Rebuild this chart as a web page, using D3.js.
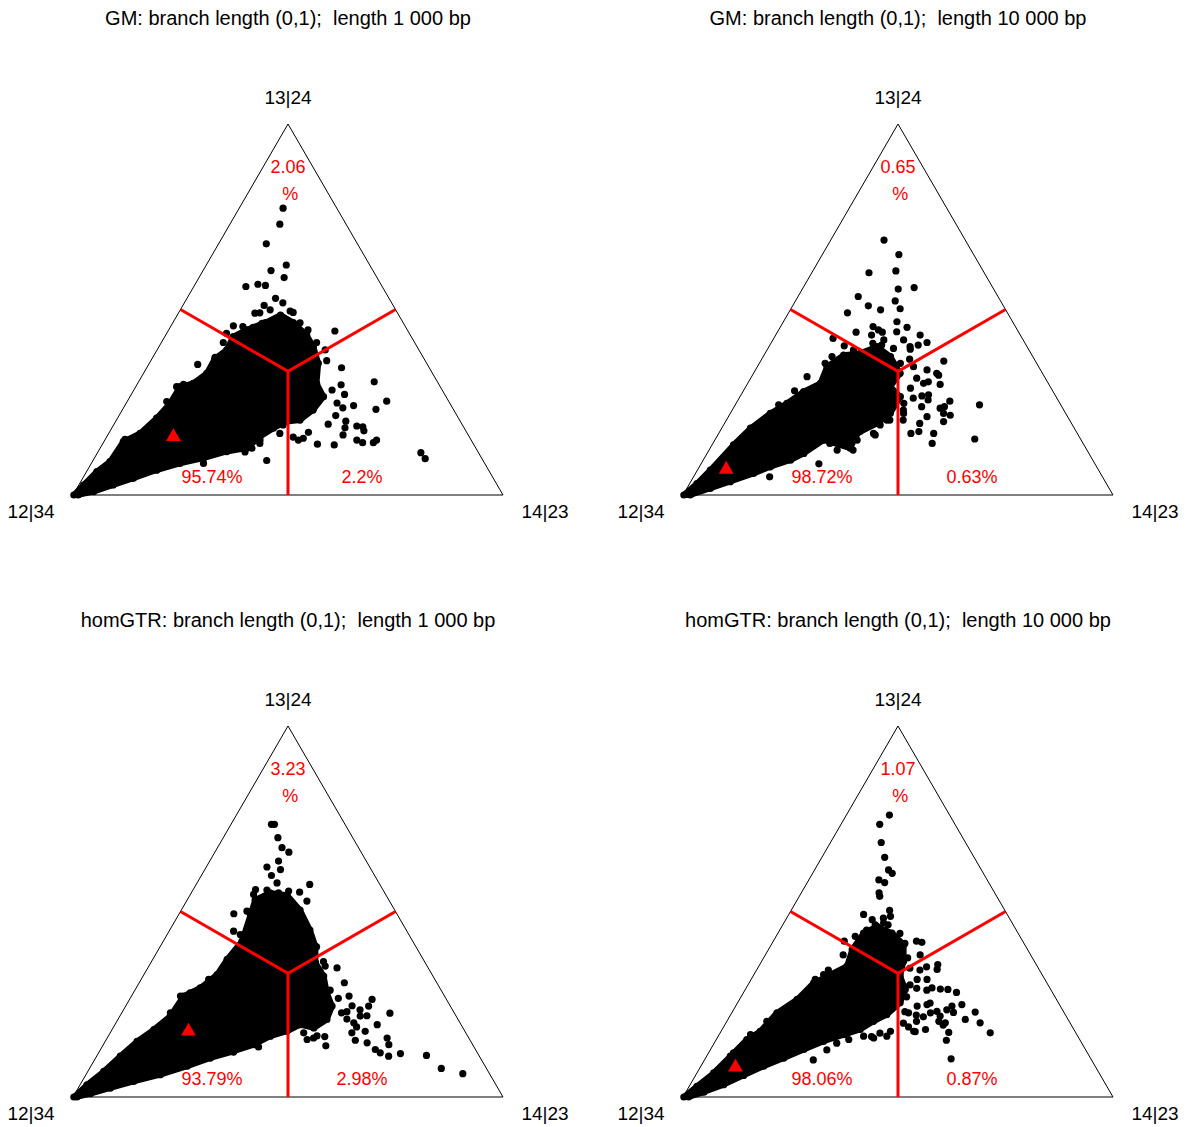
<!DOCTYPE html>
<html>
<head>
<meta charset="utf-8">
<script src="https://cdn.jsdelivr.net/npm/d3@7"></script>
<style>
  body { margin: 0; background: #fff; }
  text { font-family: "Liberation Sans", Arial, sans-serif; }
</style>
</head>
<body>
<div id="chart"></div>
<script>
// Ternary coordinates in percent: [share of 13|24, share of 14|23]; 12|34 = 100 - both
const titles = [
  "GM: branch length (0,1);  length 1 000 bp",
  "GM: branch length (0,1);  length 10 000 bp",
  "homGTR: branch length (0,1);  length 1 000 bp",
  "homGTR: branch length (0,1);  length 10 000 bp"
];
const vertexLabels = ["12|34", "13|24", "14|23"];
// [12|34 region, 13|24 region, 14|23 region]
const regionPct = [[95.74, 2.06, 2.2], [98.72, 0.65, 0.63], [93.79, 3.23, 2.98], [98.06, 1.07, 0.87]];
const truePoint = [[15.7, 15.5], [6.9, 6.6], [17.7, 18.0], [8.0, 8.2]];

// outline of the dense cloud of estimates
const coreGM1000 = [[0,0.2],[2.7,1.1],[6.3,2.4],[9.0,4.1],[14.4,4.5],[16.6,7.3],[20.7,9.1],[24.7,10.2],[29.2,10.3],
  [30.1,12.9],[32.8,14.7],[36.8,14.6],[39.1,16.2],[42.7,15.9],[44.5,18.1],[46.5,21.5],[48.5,24.0],[46.5,28.0],
  [43.1,32.8],[40.0,35.9],[35.5,39.3],[30.1,41.6],[26.5,45.0],[22.9,44.4],[20.2,42.7],[19.8,39.8],[18.0,37.6],
  [15.7,35.6],[12.6,34.1],[11.7,29.9],[9.9,25.4],[8.5,20.6],[6.7,16.1],[4.5,11.8],[2.7,8.0],[0.9,4.3],[0,1.2]];
const coreGM10000 = [[0,0.2],[3.1,1.7],[6.7,3.0],[13.5,5.0],[18.0,6.7],[22.0,9.3],[24.7,11.8],[27.9,14.1],[30.1,16.9],
  [34.6,16.2],[37.7,18.5],[38.2,22.1],[40.0,25.1],[37.3,29.6],[32.8,34.1],[29.2,33.6],[26.5,37.3],[22.0,37.2],
  [19.3,35.5],[16.6,32.2],[12.6,32.6],[14.8,25.3],[11.2,22.5],[9.4,20.3],[7.6,16.5],[5.8,13.5],[3.6,9.2],[1.8,5.5],[0,1.7]];
const coreGTR1000 = [[0,0.2],[3.3,1.6],[6.9,3.7],[11.0,5.5],[15.0,7.4],[18.2,9.7],[21.8,11.7],[27.2,12.1],[29.4,14.9],
  [33.0,17.0],[37.1,17.3],[42.0,18.3],[50.0,16.5],[53.1,15.8],[55.0,18.3],[54.4,22.6],[50.4,27.6],[45.0,32.6],
  [40.6,36.1],[36.2,38.3],[32.6,42.0],[28.1,45.0],[24.5,48.0],[20.9,48.6],[18.6,46.7],[19.5,43.1],[17.7,40.9],
  [16.4,37.7],[14.1,35.0],[12.3,31.2],[10.5,26.7],[8.3,22.4],[6.0,17.3],[4.2,12.0],[2.4,7.5],[0.9,3.6],[0,0.9]];
const coreGTR10000 = [[0,0.2],[2.9,1.8],[6.5,3.9],[11.0,5.5],[15.5,7.1],[17.7,9.1],[22.7,10.5],[26.3,13.4],[30.8,15.0],
  [33.0,17.8],[35.3,20.5],[39.7,19.5],[44.2,19.9],[46.0,22.1],[44.2,26.5],[41.1,30.8],[36.6,33.0],[32.6,34.2],
  [29.0,37.2],[25.4,37.8],[22.2,36.3],[20.4,34.1],[18.2,32.1],[16.8,29.0],[15.0,25.2],[12.8,21.7],[10.5,18.2],
  [8.3,14.6],[5.8,11.2],[3.3,7.8],[1.3,4.2],[0,1.3]];

// scattered estimates outside the dense cloud
const pointsGM1000 = [[77.3,10.2],[73.0,11.6],[67.7,11.1],[62.0,18.6],[60.5,15.8],[58.6,19.8],[56.2,12.1],[56.8,14.6],
  [56.5,16.5],[53.0,20.6],[51.8,22.9],[51.1,18.9],[49.9,20.9],[49.0,17.8],[49.1,18.9],[49.6,25.7],[49.2,26.6],
  [47.4,24.2],[46.3,20.8],[45.4,16.8],[45.6,14.5],[45.2,19.3],[43.6,13.9],[44.2,38.8],[41.1,36.1],[39.1,39.1],
  [36.2,40.9],[34.3,45.3],[30.5,54.8],[29.7,47.5],[25.3,60.3],[27.1,49.6],[24.1,53.2],[23.1,58.9],[21.4,50.4],
  [19.9,53.5],[18.1,54.2],[18.6,56.7],[18.4,58.2],[17.3,59.0],[14.8,58.6],[14.1,60.3],[14.1,62.8],[14.8,63.2],
  [13.5,54.0],[13.7,50.0],[11.4,75.2],[9.8,77.0],[9.3,40.4],[14.8,45.0],[16.9,46.3],[19.1,49.8],[15.3,45.9],
  [16.6,39.8],[13.9,36.5],[12.6,35.3],[8.5,26.1],[35.2,11.4],[41.1,14.4],[37.1,14.5],[29.2,9.5],[29.8,10.8],
  [25.2,9.2],[15.0,4.6],[46.4,29.6],[44.5,32.4],[28.3,46.1],[24.8,49.0],[23.5,51.0],[16.2,54.7],[15.6,43.4],
  [18.9,39.4],[18.1,36.8],[14.8,36.1],[11.6,34.2],[12.1,29.8]];
const pointsGM10000 = [[68.7,12.4],[64.8,17.8],[59.9,13.3],[60.4,19.3],[55.5,22.3],[55.9,25.8],[53.5,14.0],[52.3,23.2],
  [51.0,17.6],[49.9,21.0],[50.2,25.4],[49.1,13.7],[45.4,21.5],[46.7,26.4],[45.2,29.5],[43.9,18.3],[43.9,24.4],
  [43.1,33.6],[41.1,36.2],[42.2,13.8],[40.2,17.4],[37.3,16.0],[40.9,23.7],[41.8,25.8],[41.8,30.4],[39.3,33.2],
  [36.1,42.6],[36.6,34.4],[33.7,39.9],[32.3,43.3],[29.8,44.9],[30.1,40.9],[28.8,38.5],[26.7,42.2],[27.0,43.6],
  [25.3,49.4],[24.3,56.8],[23.8,48.9],[22.0,49.6],[21.5,51.4],[21.1,46.2],[19.8,50.7],[19.3,45.4],[16.6,44.7],
  [17.1,46.3],[16.6,50.0],[13.9,51.0],[15.1,60.3],[22.0,40.3],[24.7,39.0],[20.2,37.3],[16.6,36.0],[12.1,29.8],
  [12.1,33.5],[8.4,27.4],[4.9,17.7],[31.9,12.9],[28.1,11.9],[24.3,10.1],[16.6,25.2],[14.8,33.1],
  [44.5,23.2],[44.0,27.7],[43.1,22.3],[40.0,32.8],[40.4,34.5],[40.4,26.0],[39.1,20.1],[38.2,23.2],[38.6,25.7],
  [39.5,29.2],[35.5,32.8],[34.6,36.3],[32.8,42.6],[30.5,41.8],[31.5,38.6],[26.1,40.5],[25.6,44.2],[23.8,43.6],
  [23.4,48.1],[22.9,39.8],[20.2,41.1],[18.9,36.4],[20.2,38.0],[16.2,36.6],[17.1,32.6],[15.7,31.0],[13.9,27.2],
  [35.5,15.3]];
const pointsGTR1000 = [[73.5,9.4],[73.5,10.1],[69.9,12.7],[67.2,15.0],[66.0,17.2],[62.0,14.1],[63.6,16.0],[61.3,17.6],
  [59.7,16.3],[57.7,18.6],[57.3,26.4],[55.9,14.5],[55.8,17.2],[55.5,22.4],[55.2,25.1],[52.8,28.0],[53.2,17.0],
  [55.0,20.3],[54.6,14.7],[49.4,12.7],[50.1,15.4],[44.7,15.0],[43.8,17.0],[34.8,44.0],[30.8,47.7],[35.4,38.8],
  [35.3,41.0],[27.2,50.6],[24.6,52.6],[26.3,56.4],[24.5,56.5],[22.7,51.1],[21.0,53.2],[21.8,55.9],[20.0,55.3],
  [21.9,57.4],[19.5,61.0],[17.3,56.2],[17.7,59.1],[15.3,58.0],[14.6,61.1],[15.9,65.1],[12.8,63.9],[14.1,66.4],
  [11.9,65.5],[11.0,67.9],[11.7,70.3],[11.2,76.6],[7.7,81.8],[6.3,87.5],[13.8,51.9],[15.9,48.0],[17.3,45.0],
  [15.5,46.7],[16.5,48.5],[20.0,41.3],[13.5,36.4],[12.1,31.3],[12.3,28.9],[20.4,37.6],[31.7,15.7],[28.1,13.2],
  [27.2,11.4],[22.7,11.3],
  [53.1,17.7],[53.1,22.4],[50.4,20.6],[49.5,16.4],[47.7,27.4],[45.0,30.3],[41.9,34.2],[40.5,36.4],[36.5,40.0],
  [28.8,45.4],[26.6,48.4],[23.5,55.0],[23.0,52.2],[18.9,56.5],[22.6,62.4],[24.3,42.2],[22.6,44.6],[23.5,47.2],
  [19.9,46.8],[16.3,50.4],[18.9,37.5],[16.3,36.1]];
const pointsGTR10000 = [[76.0,10.0],[73.5,9.0],[68.6,11.8],[64.6,14.6],[61.2,17.2],[60.3,18.5],[58.5,16.3],[57.8,18.0],
  [55.0,18.1],[54.1,18.7],[50.3,22.9],[49.2,17.4],[47.8,20.1],[46.9,23.2],[48.7,23.9],[42.0,16.5],[43.3,18.4],
  [42.0,33.3],[41.7,34.7],[37.5,33.5],[38.8,31.1],[35.7,41.4],[34.4,41.9],[31.7,40.9],[31.7,38.6],[29.4,43.2],
  [29.1,45.3],[29.0,47.1],[28.2,49.5],[29.9,36.4],[24.5,42.2],[24.9,44.3],[22.7,46.2],[23.1,47.5],[24.5,50.3],
  [24.9,52.4],[22.8,51.5],[22.9,56.5],[20.9,55.2],[20.4,49.3],[20.0,51.0],[21.8,48.9],[20.0,59.1],[17.3,62.8],
  [18.2,47.3],[17.7,44.8],[20.4,44.1],[22.7,41.1],[17.4,53.1],[15.3,53.6],[10.3,57.2],[17.7,39.4],[16.4,39.2],
  [15.9,36.4],[16.4,33.8],[15.5,30.8],[31.7,14.9],[33.0,16.2],[21.9,10.9],[20.4,9.3],[16.8,7.3],[11.9,5.8],
  [48.2,22.5],[46.4,21.5],[46.4,24.5],[45.0,20.2],[44.6,23.5],[44.1,28.4],[41.4,30.9],[42.3,24.7],[41.4,27.8],
  [38.3,36.0],[34.7,35.4],[34.2,38.0],[35.1,39.1],[30.2,37.7],[29.3,39.7],[28.8,42.3],[27.0,38.5],[23.0,40.1],
  [25.3,44.8],[22.1,43.2],[21.6,45.1],[23.5,49.6],[19.4,50.8],[17.6,45.2],[18.9,43.0],[19.9,41.3],[17.2,37.2],
  [16.3,35.7],[14.5,28.5],[12.7,27.1],[10.0,25.3],[34.2,16.7],[36.9,20.4],[38.3,18.1]];

const cores = [coreGM1000, coreGM10000, coreGTR1000, coreGTR10000];
const scatter = [pointsGM1000, pointsGM10000, pointsGTR1000, pointsGTR10000];

const width = 1188, height = 1127;
const triW = 430, triH = 371;
const dotR = 3.6;

const svg = d3.select("#chart").append("svg")
    .attr("width", width)
    .attr("height", height);

function drawPanel(i) {
    const col = i % 2, row = Math.floor(i / 2);
    const left = 73 + 610 * col;
    const base = 495 + 602 * row;

    // horizontal position comes from (14|23 + 13|24 / 2), vertical from 13|24
    const xs = d3.scaleLinear().domain([0, 100]).range([left, left + triW]);
    const ys = d3.scaleLinear().domain([0, 100]).range([base, base - triH]);
    const px = d => xs(d[1] + d[0] / 2);
    const py = d => ys(d[0]);

    const g = svg.append("g");

    // title
    g.append("text")
        .attr("x", xs(50)).attr("y", ys(100) - 99)
        .attr("text-anchor", "middle")
        .style("white-space", "pre")
        .attr("font-size", 20)
        .text(titles[i]);

    // triangle frame
    const corners = [[0, 0], [100, 0], [0, 100]];
    g.append("path")
        .attr("d", d3.line().x(px).y(py)(corners) + "Z")
        .attr("fill", "none")
        .attr("stroke", "#000")
        .attr("stroke-width", 1);

    // dense cloud
    g.append("path")
        .attr("d", d3.line().x(px).y(py).curve(d3.curveLinearClosed)(cores[i]))
        .attr("fill", "#000")
        .attr("stroke", "#000")
        .attr("stroke-width", dotR * 1.6)
        .attr("stroke-linejoin", "round");

    g.selectAll("circle.pt")
        .data(cores[i].concat(scatter[i]))
        .join("circle")
        .attr("class", "pt")
        .attr("cx", px)
        .attr("cy", py)
        .attr("r", dotR)
        .attr("fill", "#000");

    // region borders from the centre to the middle of each side
    const centre = [100 / 3, 100 / 3];
    const mids = [[0, 50], [50, 0], [50, 50]];
    g.selectAll("line.split")
        .data(mids)
        .join("line")
        .attr("class", "split")
        .attr("x1", px(centre)).attr("y1", py(centre))
        .attr("x2", px).attr("y2", py)
        .attr("stroke", "#ff0000")
        .attr("stroke-width", 3);

    // vertex labels
    g.append("text").attr("x", xs(0) - 42).attr("y", ys(0) + 23)
        .attr("text-anchor", "middle").attr("font-size", 19).text(vertexLabels[0]);
    g.append("text").attr("x", xs(50)).attr("y", ys(100) - 20)
        .attr("text-anchor", "middle").attr("font-size", 19).text(vertexLabels[1]);
    g.append("text").attr("x", xs(100) + 42).attr("y", ys(0) + 23)
        .attr("text-anchor", "middle").attr("font-size", 19).text(vertexLabels[2]);

    // region percentages
    const pct = regionPct[i];
    const red = "#ff0000";
    g.append("text").attr("x", xs(32.35)).attr("y", ys(0) - 12)
        .attr("text-anchor", "middle").attr("font-size", 18).attr("fill", red)
        .text(pct[0] + "%");
    g.append("text").attr("x", xs(67.2)).attr("y", ys(0) - 12)
        .attr("text-anchor", "middle").attr("font-size", 18).attr("fill", red)
        .text(pct[2] + "%");
    g.append("text").attr("x", xs(50)).attr("y", ys(100) + 49)
        .attr("text-anchor", "middle").attr("font-size", 18).attr("fill", red)
        .text(pct[1]);
    g.append("text").attr("x", xs(50.5)).attr("y", ys(100) + 76)
        .attr("text-anchor", "middle").attr("font-size", 18).attr("fill", red)
        .text("%");

    // true tree marker
    const tp = truePoint[i];
    g.append("path")
        .attr("d", d3.symbol().type(d3.symbolTriangle).size(95)())
        .attr("transform", `translate(${px(tp)},${py(tp)})`)
        .attr("fill", red);
}

for (let i = 0; i < 4; i++) drawPanel(i);
</script>
</body>
</html>
